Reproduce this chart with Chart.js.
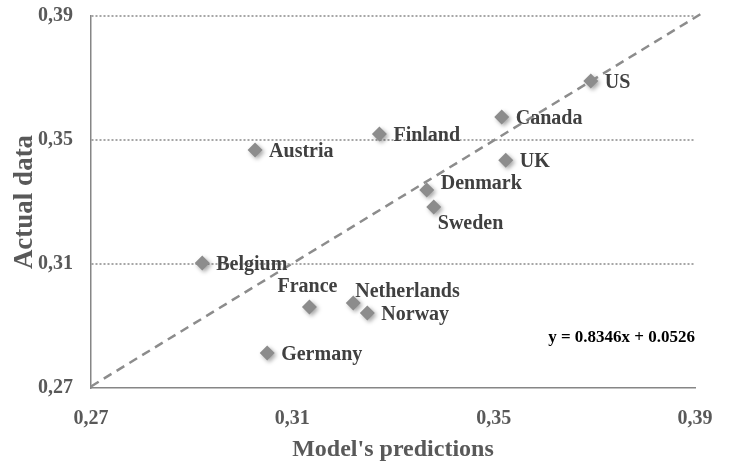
<!DOCTYPE html>
<html>
<head>
<meta charset="utf-8">
<script src="https://cdn.jsdelivr.net/npm/chart.js@4"></script>
<style>
  html, body { margin: 0; padding: 0; background: #fff; }
  #wrap { width: 731px; height: 466px; }
</style>
</head>
<body>
<div id="wrap"><canvas id="scatterChart" width="731" height="466"></canvas></div>
<script>
// data
const countries = ['US', 'Canada', 'Finland', 'UK', 'Denmark', 'Sweden', 'Austria', 'Belgium', 'France', 'Netherlands', 'Norway', 'Germany'];
const predicted = [0.3693, 0.3516, 0.3273, 0.3524, 0.3367, 0.3381, 0.3026, 0.2921, 0.3134, 0.3221, 0.3249, 0.3050];
const actual    = [0.3690, 0.3574, 0.3519, 0.3435, 0.3339, 0.3284, 0.3468, 0.3103, 0.2961, 0.2974, 0.2942, 0.2813];
const labelPlace = ['right', 'right', 'right', 'right', 'upright', 'below', 'right', 'right', 'above', 'aboveright', 'right', 'right'];
const trendX = [0.27, 0.3915];
const trendY = [0.2705, 0.3910];
const xTicks = [0.27, 0.31, 0.35, 0.39];
const yTicks = [0.27, 0.31, 0.35, 0.39];
const equation = 'y = 0.8346x + 0.0526';

const serif = '"Liberation Serif", "Times New Roman", serif';
const fmt = v => v.toFixed(2).replace('.', ',');

// soft shadow under the diamonds
const shadowPlugin = {
    id: 'shadow',
    beforeDatasetDraw(chart, args) {
        if (args.index !== 1) return;
        const ctx = chart.ctx;
        ctx.save();
        ctx.shadowColor = 'rgba(0,0,0,0.35)';
        ctx.shadowBlur = 4;
        ctx.shadowOffsetX = 2;
        ctx.shadowOffsetY = 2;
    },
    afterDatasetDraw(chart, args) {
        if (args.index !== 1) return;
        chart.ctx.restore();
    }
};

// country names next to the points + equation text
const labelPlugin = {
    id: 'pointLabels',
    afterDatasetsDraw(chart) {
        const ctx = chart.ctx;
        const meta = chart.getDatasetMeta(1);
        ctx.save();
        ctx.font = 'bold 20px ' + serif;
        ctx.fillStyle = '#404040';
        ctx.textBaseline = 'middle';
        meta.data.forEach((pt, i) => {
            let x = pt.x, y = pt.y;
            ctx.textAlign = 'left';
            switch (labelPlace[i]) {
                case 'right': x += 14; y += 2; break;
                case 'upright': x += 14; y -= 6; break;
                case 'below': x += 4; y += 17; break;
                case 'above': ctx.textAlign = 'center'; x -= 2; y -= 20; break;
                case 'aboveright': x += 2; y -= 11; break;
            }
            ctx.fillText(countries[i], x, y);
        });
        ctx.font = 'bold 17px ' + serif;
        ctx.fillStyle = '#000';
        ctx.textAlign = 'right';
        const area = chart.chartArea;
        ctx.fillText(equation, area.right, chart.scales.y.getPixelForValue(0.2862));
        ctx.restore();
    }
};

const ctx = document.getElementById('scatterChart').getContext('2d');
const scatterChart = new Chart(ctx, {
    type: 'scatter',
    data: {
        datasets: [{
            type: 'line',
            data: trendX.map((x, i) => ({ x: x, y: trendY[i] })),
            borderColor: '#8c8c8c',
            borderWidth: 2.5,
            borderDash: [9, 6],
            pointRadius: 0,
            fill: false,
            clip: false
        }, {
            data: predicted.map((x, i) => ({ x: x, y: actual[i] })),
            pointStyle: 'rectRot',
            pointRadius: 7.5,
            pointHoverRadius: 7.5,
            backgroundColor: '#8c8c8c',
            borderColor: '#8c8c8c',
            borderWidth: 0
        }]
    },
    options: {
        responsive: false,
        animation: false,
        events: [],
        layout: { padding: { top: 16, right: 36, left: 0, bottom: 0 } },
        plugins: {
            legend: { display: false },
            tooltip: { enabled: false }
        },
        scales: {
            x: {
                type: 'linear',
                min: 0.27,
                max: 0.39,
                afterBuildTicks: s => { s.ticks = xTicks.map(v => ({ value: v })); },
                afterFit: s => { s.height = 78; s.paddingLeft = 0; s.paddingRight = 0; },
                grid: { display: false },
                border: { display: true, color: '#868686', width: 1.5 },
                ticks: {
                    callback: v => fmt(v),
                    color: '#595959',
                    font: { family: serif, size: 20, weight: 'bold' },
                    padding: 11,
                    maxRotation: 0
                },
                title: {
                    display: true,
                    text: "Model's predictions",
                    color: '#595959',
                    font: { family: serif, size: 24, weight: 'bold' },
                    padding: { top: 4, bottom: 2 }
                }
            },
            y: {
                type: 'linear',
                min: 0.27,
                max: 0.39,
                afterBuildTicks: s => { s.ticks = yTicks.map(v => ({ value: v })); },
                afterFit: s => { s.width = 91; s.paddingTop = 0; s.paddingBottom = 0; },
                grid: {
                    drawTicks: false,
                    color: c => c.tick && c.tick.value > 0.27 ? '#a6a6a6' : 'rgba(0,0,0,0)',
                    lineWidth: 2
                },
                // in v4 border.dash dashes the grid lines, not the axis line
                border: { display: true, color: '#868686', width: 1.5, dash: [2, 2] },
                ticks: {
                    callback: v => fmt(v),
                    color: '#595959',
                    font: { family: serif, size: 20, weight: 'bold' },
                    padding: 18
                },
                title: {
                    display: true,
                    text: 'Actual data',
                    color: '#595959',
                    font: { family: serif, size: 27, weight: 'bold' },
                    padding: { top: 9, bottom: 4 }
                }
            }
        }
    },
    plugins: [shadowPlugin, labelPlugin]
});
</script>
</body>
</html>
